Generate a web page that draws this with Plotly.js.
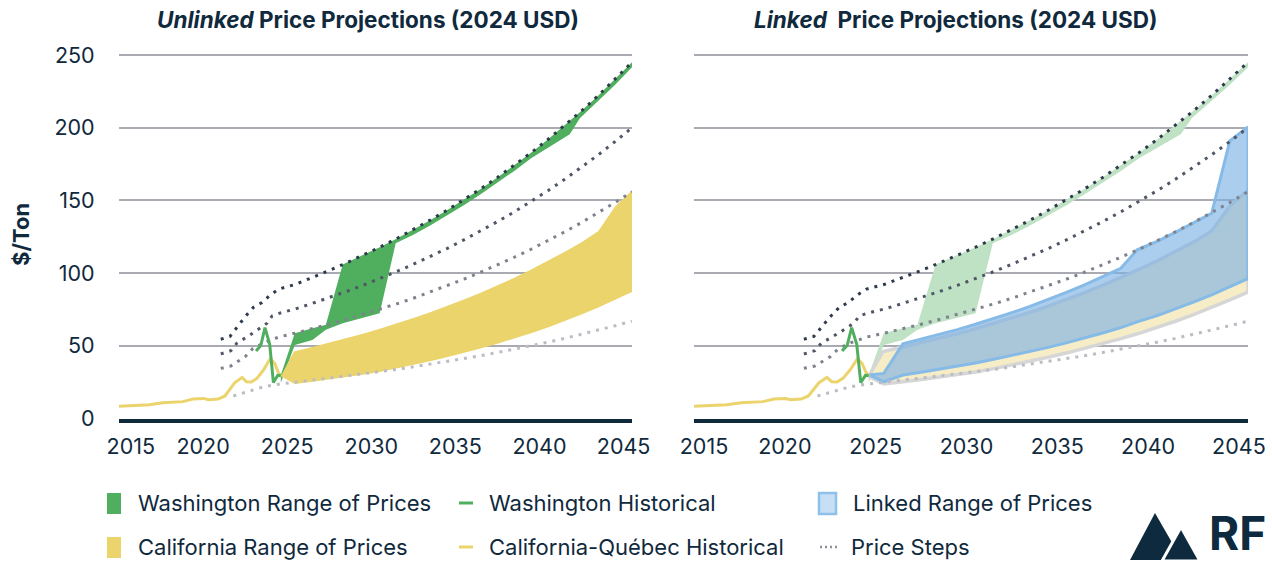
<!DOCTYPE html>
<html><head><meta charset="utf-8">
<script src="https://cdn.plot.ly/plotly-3.0.1.min.js"></script>
<style>html,body{margin:0;padding:0;background:#fff}#chart{width:1272px;height:563px}</style>
</head><body><div id="chart"></div>
<script>
// ---------------- DATA ----------------
const tickLabels = ['2015','2020','2025','2030','2035','2040','2045'];
const leftTickPos  = [2015.7, 2020, 2025, 2030, 2035, 2040, 2045];
const rightTickPos = [2015.55, 2020, 2025, 2030, 2035, 2040, 2045];
const priceTicks = [0, 50, 100, 150, 200, 250];

// California-Québec historical
const caHistYears = [2015.0, 2016.0, 2016.8, 2017.6, 2018.8, 2019.4, 2020.05, 2020.3, 2020.9, 2021.3, 2021.88, 2022.32, 2022.58, 2022.87, 2023.2, 2023.6, 2024.0, 2024.25, 2024.45, 2024.62];
const caHistPrice = [8.4, 8.8, 9.5, 10.9, 11.6, 13.4, 13.8, 12.9, 13.4, 15.5, 24.6, 28.3, 25.3, 25.1, 27.6, 33.5, 41.2, 38.0, 32.2, 29.0];

// Washington historical
const waHistYears = [2023.15, 2023.43, 2023.68, 2023.96, 2024.18, 2024.44, 2024.62];
const waHistPrice = [46.5, 50.2, 62.5, 51.0, 24.7, 29.7, 29.5];

// Projection years (mid-year positions)
const projYears = [2025.5, 2026.5, 2027.5, 2028.5, 2029.5, 2030.5, 2031.5, 2032.5, 2033.5, 2034.5, 2035.5, 2036.5, 2037.5, 2038.5, 2039.5, 2040.5, 2041.5, 2042.5, 2043.5, 2044.5, 2045.5];

// Price steps (four dotted lines)
const stepAPreYears = [2021.05, 2021.6, 2022.0, 2022.5, 2023.0, 2023.5, 2024.0, 2024.5];
const stepAPrePrice = [54.5, 56.5, 62.5, 70.0, 76.5, 79.8, 85.0, 89.0];
const stepAPrice = [92.3, 96.9, 101.8, 106.9, 112.2, 117.8, 123.7, 129.9, 136.4, 143.2, 150.4, 157.9, 165.8, 174.1, 182.8, 191.9, 201.5, 211.6, 222.2, 233.3, 245.0];

const stepBPreYears = [2021.05, 2021.65, 2022.0, 2022.5, 2023.0, 2023.8, 2024.1, 2024.6];
const stepBPrePrice = [44.4, 46.6, 51.7, 55.2, 59.0, 65.5, 70.5, 72.6];
const stepBPrice = [75.4, 79.2, 83.1, 87.3, 91.6, 96.2, 101.0, 106.1, 111.4, 116.9, 122.8, 128.9, 135.4, 142.1, 149.2, 156.7, 164.5, 172.8, 181.4, 190.5, 200.0];

const stepCPreYears = [2021.05, 2021.65, 2022.5, 2022.95, 2023.6, 2024.5];
const stepCPrePrice = [34.5, 36.1, 42.5, 48.0, 52.0, 56.0];
const stepCPrice = [58.8, 61.7, 64.8, 68.1, 71.5, 75.1, 78.8, 82.7, 86.9, 91.2, 95.8, 100.6, 105.6, 110.9, 116.4, 122.2, 128.4, 134.8, 141.5, 148.6, 156.0];

const stepDPreYears = [2021.8, 2022.5, 2023.0, 2023.6, 2024.5];
const stepDPrePrice = [15.5, 18.0, 19.6, 21.8, 23.6];
const stepDPrice = [25.2, 26.5, 27.8, 29.2, 30.7, 32.2, 33.8, 35.5, 37.3, 39.2, 41.1, 43.2, 45.4, 47.6, 50.0, 52.5, 55.1, 57.9, 60.8, 63.8, 67.0];

// Washington range of prices
const waUpperYears = [2024.62, 2025.45, 2026.5, 2027.3, 2028.3, 2029.5, 2030.5, 2031.5, 2032.5, 2033.5, 2034.5, 2035.5, 2036.5, 2037.5, 2038.5, 2039.5, 2040.5, 2041.5, 2042.5, 2043.5, 2044.5, 2045.5];
const waUpperPrice = [30.0, 58.6, 62.0, 64.5, 106.0, 112.2, 117.8, 123.7, 129.9, 136.4, 143.2, 150.4, 157.9, 165.8, 174.1, 182.8, 191.9, 201.5, 211.6, 222.2, 233.3, 245.0];
const waLowerYears = [2024.62, 2025.45, 2026.5, 2027.3, 2028.3, 2030.5, 2031.45, 2032.5, 2033.5, 2034.5, 2035.5, 2036.5, 2037.5, 2038.5, 2039.5, 2041.8, 2042.4, 2043.5, 2044.5, 2045.5];
const waLowerPrice = [24.6, 50.5, 54.0, 61.0, 65.5, 72.4, 120.5, 126.3, 132.8, 139.5, 146.7, 154.2, 162.0, 170.3, 179.0, 195.5, 206.5, 218.5, 229.5, 241.5];

// California range of prices
const caUpperYears = [2024.62, 2025.4, 2026.5, 2027.5, 2028.5, 2029.5, 2030.5, 2031.5, 2032.5, 2033.5, 2034.5, 2035.5, 2036.5, 2037.5, 2038.5, 2039.5, 2040.5, 2041.5, 2042.5, 2043.5, 2044.5, 2045.5];
const caUpperPrice = [29.0, 46.0, 49.2, 52.1, 55.1, 58.3, 61.7, 65.3, 69.1, 73.1, 77.3, 81.8, 86.5, 91.5, 96.8, 102.5, 108.4, 114.7, 121.3, 129.0, 146.0, 157.0];
const caLowerYears = [2024.62, 2025.45, 2026.5, 2027.5, 2028.5, 2029.5, 2030.5, 2031.5, 2032.5, 2033.5, 2034.5, 2035.5, 2036.5, 2037.5, 2038.5, 2039.5, 2040.5, 2041.5, 2042.5, 2043.5, 2044.5, 2045.5];
const caLowerPrice = [29.0, 23.8, 25.3, 26.8, 28.4, 30.1, 32.0, 34.3, 36.8, 39.4, 42.1, 45.0, 48.1, 51.4, 54.9, 58.6, 62.6, 66.9, 71.5, 76.4, 81.6, 87.0];

// Linked range of prices
const linkYears = [2024.65, 2025.45, 2026.5, 2027.5, 2028.5, 2029.5, 2030.5, 2031.5, 2032.5, 2033.5, 2034.5, 2035.5, 2036.5, 2037.5, 2038.5, 2039.4, 2040.5, 2041.5, 2042.5, 2043.5, 2044.5, 2045.5];
const linkUpper = [30.0, 31.0, 51.3, 54.4, 57.7, 61.1, 64.8, 68.7, 72.8, 77.1, 81.8, 86.7, 91.9, 97.4, 103.3, 116.0, 121.8, 128.0, 134.4, 141.1, 191.0, 200.5];
const linkLower = [30.0, 25.2, 29.9, 31.8, 33.8, 35.9, 38.2, 40.7, 43.2, 46.0, 48.9, 52.0, 55.3, 58.8, 62.5, 66.5, 70.7, 75.2, 80.0, 85.0, 90.5, 96.3];

// ---------------- STYLE ----------------
const W = 1272, H = 563;
const FONT = 'Inter, Roboto, "DejaVu Sans", sans-serif';
const NAVY = '#10293d';
const GREEN = '#4faf5e', YELLOW = '#ebd46c';
const GREEN_FADED = '#bfe2c5', YELLOW_FADED = '#f6edc6', GRAY_EDGE = '#d6d6d6';
const BLUE_FILL = 'rgba(121,176,228,0.62)', BLUE_LINE = '#86bae7';
const STEP_COLORS = ['#2f3b4d', '#4f5666', '#7f838e', '#bcbcc4'];
const GRID = '#aaaab3';
const px = x => x / W, py = y => 1 - y / H;

function band(xu, yu, xl, yl, ax, fill, lineColor, lineWidth) {
  return {x: xu.concat(xl.slice().reverse()), y: yu.concat(yl.slice().reverse()),
    xaxis: ax[0], yaxis: ax[1], type: 'scatter', mode: 'lines', fill: 'toself',
    fillcolor: fill, line: {color: lineColor || fill, width: lineWidth || 0},
    hoverinfo: 'skip', showlegend: false};
}
function line(xs, ys, ax, color, width, dash) {
  return {x: xs, y: ys, xaxis: ax[0], yaxis: ax[1], type: 'scatter', mode: 'lines',
    line: {color: color, width: width, dash: dash || 'solid'}, hoverinfo: 'skip', showlegend: false};
}
const steps = [
  [stepAPreYears.concat(projYears), stepAPrePrice.concat(stepAPrice)],
  [stepBPreYears.concat(projYears), stepBPrePrice.concat(stepBPrice)],
  [stepCPreYears.concat(projYears), stepCPrePrice.concat(stepCPrice)],
  [stepDPreYears.concat(projYears), stepDPrePrice.concat(stepDPrice)]
];
const L = ['x', 'y'], R = ['x2', 'y2'];
const traces = [];
// left chart
traces.push(band(waUpperYears, waUpperPrice, waLowerYears, waLowerPrice, L, GREEN));
traces.push(band(caUpperYears, caUpperPrice, caLowerYears, caLowerPrice, L, YELLOW));
steps.forEach((s, i) => traces.push(line(s[0], s[1], L, STEP_COLORS[i], 3, '3px,6px')));
traces.push(line(caHistYears, caHistPrice, L, YELLOW, 3));
traces.push(line(waHistYears, waHistPrice, L, GREEN, 3));
// right chart
traces.push(band(waUpperYears, waUpperPrice, waLowerYears, waLowerPrice, R, GREEN_FADED));
traces.push(band(caUpperYears, caUpperPrice, caLowerYears, caLowerPrice, R, YELLOW_FADED, GRAY_EDGE, 3.5));
traces.push(band(linkYears, linkUpper, linkYears, linkLower, R, BLUE_FILL, BLUE_LINE, 3));
steps.forEach((s, i) => traces.push(line(s[0], s[1], R, STEP_COLORS[i], 3, '3px,6px')));
traces.push(line(caHistYears, caHistPrice, R, YELLOW, 3));
traces.push(line(waHistYears, waHistPrice, R, GREEN, 3));

const yDomain = [py(418.5), py(52.1)];
const tickFont = {family: FONT, size: 21.5, color: NAVY};
function xAxis(domain, tickPos) {
  return {domain: domain, range: [2015, 2045.5], tickmode: 'array', tickvals: tickPos, ticktext: tickLabels,
    showgrid: false, zeroline: false, showline: true, linecolor: '#0f2a3b', linewidth: 4,
    ticks: 'outside', ticklen: 6, tickcolor: 'rgba(0,0,0,0)', tickfont: tickFont, fixedrange: true};
}
function yAxis(anchor, showLabels) {
  return {domain: yDomain, range: [0, 252], anchor: anchor, tickmode: 'array', tickvals: priceTicks,
    showgrid: true, gridcolor: GRID, gridwidth: 2, zeroline: false, showline: false,
    showticklabels: showLabels, ticks: 'outside', ticklen: 19, tickcolor: 'rgba(0,0,0,0)',
    tickfont: tickFont, fixedrange: true};
}

const ann = (text, x, y, opts) => Object.assign({text: text, x: px(x), y: py(y), xref: 'paper', yref: 'paper',
  showarrow: false, xanchor: 'left', yanchor: 'middle', font: {family: FONT, size: 22, color: NAVY}}, opts || {});

const annotations = [
  ann('<b><i>Unlinked</i> Price Projections (2024 USD)</b>', 368, 20, {xanchor: 'center', font: {family: FONT, size: 22.5, color: NAVY}}),
  ann('<b><i>Linked</i>&nbsp; Price Projections (2024 USD)</b>', 955, 20, {xanchor: 'center', font: {family: FONT, size: 22.5, color: NAVY}}),
  ann('<b>$/Ton</b>', 21, 235, {xanchor: 'center', textangle: -90, font: {family: FONT, size: 22, color: NAVY}}),
  ann('Washington Range of Prices', 136, 503),
  ann('Washington Historical', 487, 503),
  ann('Linked Range of Prices', 851, 503),
  ann('California Range of Prices', 136, 547),
  ann('California-Québec Historical', 487, 547),
  ann('Price Steps', 849, 547),
  ann('<b>RF</b>', 1237, 562, {xanchor: 'center', yanchor: 'bottom', borderpad: 0, font: {family: FONT, size: 46, color: '#0d2a3e'}})
];
const rect = (x0, y0, x1, y1, fill, lineColor, lw) => ({type: 'rect', xref: 'paper', yref: 'paper',
  x0: px(x0), x1: px(x1), y0: py(y0), y1: py(y1), fillcolor: fill, line: {color: lineColor || fill, width: lw || 0}});
const seg = (x0, y0, x1, y1, color, lw, dash) => ({type: 'line', xref: 'paper', yref: 'paper',
  x0: px(x0), x1: px(x1), y0: py(y0), y1: py(y1), line: {color: color, width: lw, dash: dash || 'solid'}});
const poly = (pts, fill, lineColor, lw) => ({type: 'path', xref: 'paper', yref: 'paper',
  path: 'M' + pts.map(p => px(p[0]) + ',' + py(p[1])).join('L') + 'Z', fillcolor: fill,
  line: {color: lineColor || fill, width: lw || 0}});

const shapes = [
  rect(107, 493, 121, 514, GREEN),
  rect(107, 537, 121, 558, YELLOW),
  seg(459, 503, 473, 503, GREEN, 3),
  seg(459, 547, 473, 547, YELLOW, 3),
  rect(819, 493, 836, 514, '#c6dff5', '#8fc0ea', 2.5),
  seg(820, 547, 838, 547, '#8d919b', 2.5, '2px,3px'),
  poly([[1130, 560], [1155, 513], [1182, 560]], '#0d2a3e'),
  poly([[1162, 561], [1181, 527], [1200, 561]], '#0d2a3e', '#ffffff', 3)
];

const layout = {
  width: W, height: H, margin: {l: 0, r: 0, t: 0, b: 0}, paper_bgcolor: '#ffffff', plot_bgcolor: 'rgba(0,0,0,0)',
  showlegend: false, font: {family: FONT, color: NAVY},
  xaxis: xAxis([px(119), px(632)], leftTickPos), yaxis: yAxis('x', true),
  xaxis2: xAxis([px(694), px(1248)], rightTickPos), yaxis2: yAxis('x2', false),
  annotations: annotations, shapes: shapes
};
layout.xaxis.anchor = 'y'; layout.xaxis2.anchor = 'y2';
Plotly.newPlot('chart', traces, layout, {displayModeBar: false, staticPlot: true});
</script></body></html>
